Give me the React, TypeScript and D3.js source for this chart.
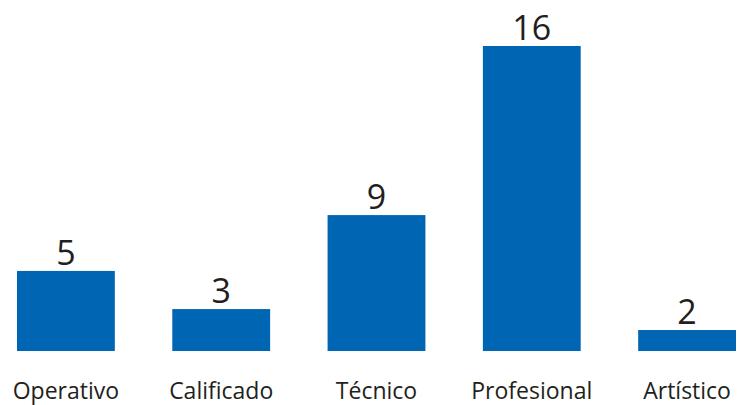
import React from "react";
import * as d3 from "d3";

const categories = ["Operativo", "Calificado", "Técnico", "Profesional", "Artístico"];
const valueLabels = [5, 3, 9, 16, 2];
// bar lengths as drawn in the picture (in label units, 16 = tallest)
const barLengths = [4.2, 2.2, 7.13, 16, 1.1];

const W = 738;
const H = 405;

export default function App() {
  const x = d3.scaleBand<string>().domain(categories).range([17, 736]).paddingInner(0.37).paddingOuter(0);
  const y = d3.scaleLinear().domain([0, 16]).range([351, 46]);
  const font = "'Open Sans', 'Noto Sans', sans-serif";
  return (
    <svg width={W} height={H} style={{ position: "absolute", left: 0, top: 0, background: "#fff" }}>
      {categories.map((c, i) => {
        const x0 = x(c)!;
        const bw = x.bandwidth();
        const top = y(barLengths[i]);
        return (
          <g key={c}>
            <rect x={x0} y={top} width={bw} height={y(0) - top} fill="#0066b3" />
            <text x={x0 + bw / 2} y={top - 6} textAnchor="middle" fontFamily={font} fontSize={34} fill="#231f20">
              {valueLabels[i]}
            </text>
            <text x={x0 + bw / 2} y={399} textAnchor="middle" fontFamily={font} fontSize={23} fill="#231f20">
              {c}
            </text>
          </g>
        );
      })}
    </svg>
  );
}
